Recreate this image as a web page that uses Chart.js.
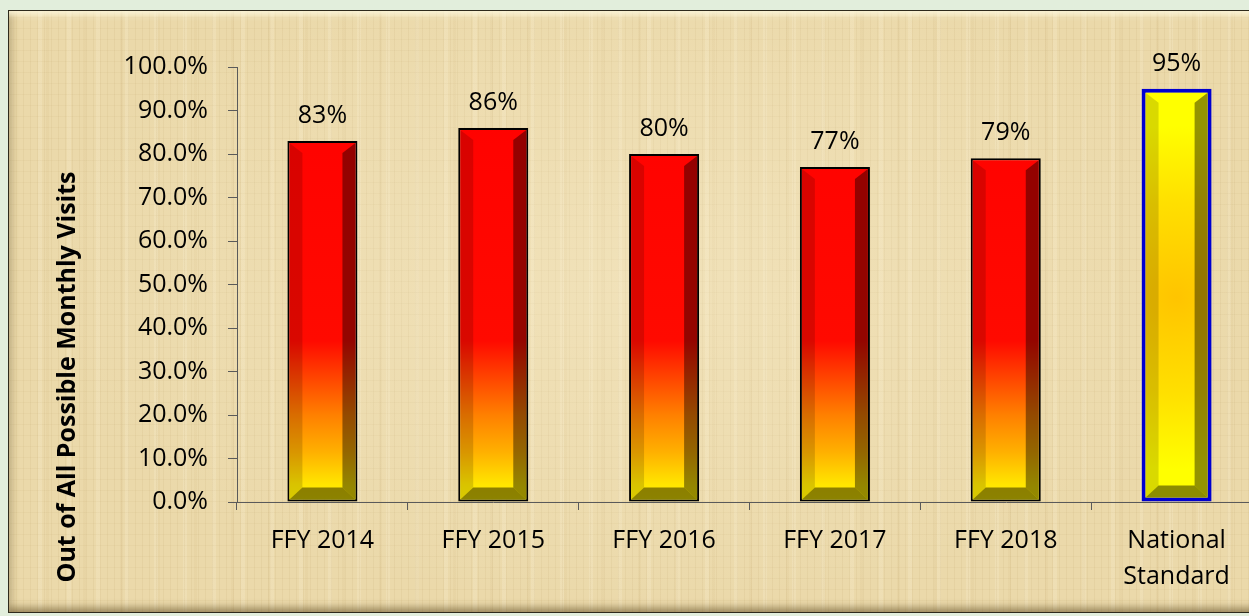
<!DOCTYPE html>
<html><head><meta charset="utf-8">
<script src="https://cdn.jsdelivr.net/npm/chart.js@4.4.0/dist/chart.umd.min.js"></script>
<style>
html,body{margin:0;padding:0;width:1249px;height:616px;overflow:hidden;background:#e2eedc;}
#frame{position:absolute;left:8px;top:10px;width:1270px;height:601px;border:1px solid #2e2a1c;
 background:
  radial-gradient(ellipse at 50% 45%, rgba(255,246,220,0.3), rgba(255,246,220,0) 70%),
  repeating-linear-gradient(90deg, rgba(150,115,50,0.07) 0 1px, rgba(0,0,0,0) 1px 7px),
  repeating-linear-gradient(0deg, rgba(150,115,50,0.05) 0 1px, rgba(0,0,0,0) 1px 11px),
  repeating-linear-gradient(90deg, rgba(255,248,225,0.18) 0 4px, rgba(0,0,0,0) 4px 29px),
  repeating-linear-gradient(90deg, rgba(170,130,60,0.05) 0 3px, rgba(0,0,0,0) 3px 37px),
  #ebd9aa;
 box-shadow: inset 0 7px 6px -3px rgba(255,250,225,0.85), inset 0 -9px 7px -4px rgba(95,75,35,0.5), inset 7px 0 6px -3px rgba(130,105,55,0.35);}
#wrap{position:absolute;left:0;top:0;width:1262px;height:616px;}
</style></head>
<body>
<div id="frame"></div>
<div id="wrap"><canvas id="c" width="1262" height="616"></canvas></div>
<script>
const categories = ['FFY 2014','FFY 2015','FFY 2016','FFY 2017','FFY 2018',['National','Standard']];
const values = [83, 86, 80, 77, 79, 95];
const dataLabels = ['83%','86%','80%','77%','79%','95%'];
const yTicks = [0,10,20,30,40,50,60,70,80,90,100];
const yTitle = 'Out of All Possible Monthly Visits';

const FONT = "'Open Sans', 'DejaVu Sans', sans-serif";

function redGrad(chart){
  const a = chart.chartArea; const ctx = chart.ctx;
  const g = ctx.createLinearGradient(0, a.top, 0, a.bottom);
  g.addColorStop(0, '#ff0000');
  g.addColorStop(0.63, '#ff0a00');
  g.addColorStop(0.8, '#ff8000');
  g.addColorStop(0.885, '#ffb000');
  g.addColorStop(0.96, '#ffe600');
  g.addColorStop(1, '#fff000');
  return g;
}
function yellowGrad(chart, x){
  const a = chart.chartArea; const ctx = chart.ctx;
  const cy = a.top + (a.bottom - a.top) * 0.53;
  const g = ctx.createRadialGradient(x, cy, 0, x, cy, 215);
  g.addColorStop(0, '#ffc400');
  g.addColorStop(0.45, '#ffe000');
  g.addColorStop(0.8, '#ffff00');
  g.addColorStop(1, '#ffff00');
  return g;
}

const bevelPlugin = {
  id: 'bevel',
  afterDatasetsDraw(chart){
    const ctx = chart.ctx;
    const meta = chart.getDatasetMeta(0);
    meta.data.forEach((el, i) => {
      const p = el.getProps(['x','y','base','width'], true);
      const bw = i === 5 ? 4 : 2;
      const x1 = p.x - p.width/2 + bw, x2 = p.x + p.width/2 - bw;
      const y1 = p.y + bw, y2 = p.base - bw;
      const s = 13, t = 10, b = 12;
      const fx1 = x1 + s, fx2 = x2 - s, fy1 = y1 + t, fy2 = y2 - b;
      const poly = (pts, col) => {
        ctx.beginPath(); ctx.moveTo(pts[0][0], pts[0][1]);
        for (let k = 1; k < pts.length; k++) ctx.lineTo(pts[k][0], pts[k][1]);
        ctx.closePath(); ctx.fillStyle = col; ctx.fill();
      };
      ctx.save();
      poly([[x1,y1],[fx1,fy1],[fx1,fy2],[x1,y2]], 'rgba(0,0,0,0.15)');
      poly([[x2,y1],[fx2,fy1],[fx2,fy2],[x2,y2]], 'rgba(0,0,0,0.42)');
      poly([[x1,y2],[fx1,fy2],[fx2,fy2],[x2,y2]], 'rgba(0,0,0,0.45)');
      ctx.restore();
    });
  }
};

const labelPlugin = {
  id: 'valueLabels',
  afterDatasetsDraw(chart){
    const ctx = chart.ctx;
    const meta = chart.getDatasetMeta(0);
    ctx.save();
    ctx.font = '25px ' + FONT;
    ctx.fillStyle = '#000';
    ctx.textAlign = 'center';
    ctx.textBaseline = 'middle';
    meta.data.forEach((el, i) => {
      ctx.fillText(dataLabels[i], el.x, el.y - 25);
    });
    ctx.restore();
  }
};

const yTitlePlugin = {
  id: 'yTitle',
  afterDraw(chart){
    const ctx = chart.ctx;
    ctx.save();
    ctx.translate(68, 377);
    ctx.rotate(-Math.PI / 2);
    ctx.font = 'bold 25px ' + FONT;
    ctx.fillStyle = '#000';
    ctx.textAlign = 'center';
    ctx.textBaseline = 'middle';
    ctx.fillText(yTitle, 0, 0);
    ctx.restore();
  }
};

new Chart(document.getElementById('c'), {
  type: 'bar',
  data: {
    labels: categories,
    datasets: [{
      data: values,
      backgroundColor: (c) => {
        const ch = c.chart;
        const a = ch.chartArea;
        if (!a || !isFinite(a.top) || !isFinite(a.bottom)) return c.dataIndex === 5 ? '#ffff00' : '#ff0000';
        if (c.dataIndex === 5) {
          let x = ch.scales && ch.scales.x ? ch.scales.x.getPixelForValue(5) : NaN;
          if (!isFinite(x)) x = a.right - (a.right - a.left) / 12;
          return yellowGrad(ch, x);
        }
        return redGrad(ch);
      },
      borderColor: ['#000','#000','#000','#000','#000','#0000d0'],
      borderWidth: [2,2,2,2,2,4],
      borderSkipped: false,
      barPercentage: 0.41,
      categoryPercentage: 1
    }]
  },
  options: {
    responsive: false,
    animation: false,
    devicePixelRatio: 1,
    layout: { padding: { top: 67, left: 0, right: 0, bottom: 0 } },
    plugins: { legend: { display: false }, tooltip: { enabled: false } },
    scales: {
      x: {
        offset: true,
        grid: { offset: true, drawOnChartArea: false, tickLength: 8, color: '#5a5a5a' },
        border: { color: '#5a5a5a' },
        ticks: { font: { family: FONT, size: 25, lineHeight: 1.44 }, color: '#000', padding: 13, maxRotation: 0, autoSkip: false },
        afterFit: (s) => { s.height = 114; }
      },
      y: {
        min: 0, max: 100,
        afterBuildTicks: (s) => { s.ticks = yTicks.map(v => ({ value: v })); },
        grid: { drawOnChartArea: false, tickLength: 9, color: '#5a5a5a' },
        border: { color: '#5a5a5a' },
        ticks: { font: { family: FONT, size: 25 }, color: '#000', padding: 20, callback: (v) => v.toFixed(1) + '%' },
        afterFit: (s) => { s.width = 237; }
      }
    }
  },
  plugins: [bevelPlugin, labelPlugin, yTitlePlugin]
});
</script>
</body></html>
